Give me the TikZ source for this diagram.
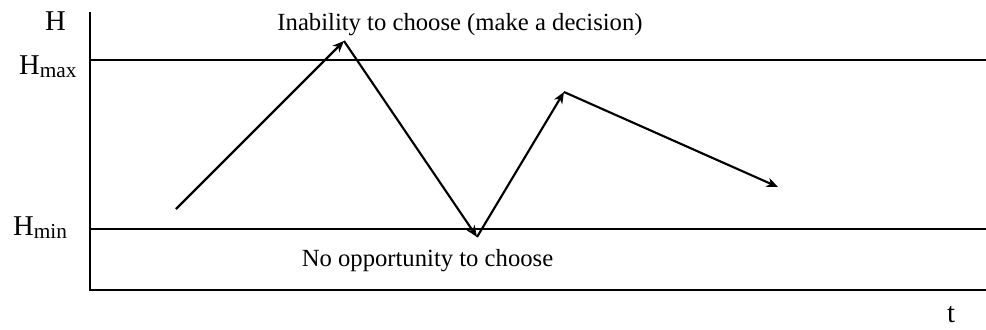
\documentclass[tikz,border=0pt]{standalone}
\usepackage{fontspec}
\setmainfont{Liberation Serif}
\usetikzlibrary{arrows.meta}

\begin{document}
\begin{tikzpicture}[x=0.75pt,y=-0.75pt,line width=1.6pt,
    axlbl/.style={font=\fontsize{21.5}{24}\selectfont,inner sep=0pt,anchor=base west},
    txt/.style={font=\fontsize{18.5}{22}\selectfont,inner sep=0pt,anchor=base},
    move/.style={-{Stealth[length=8.5pt,width=7pt,inset=2.5pt]}}]
        \useasboundingbox (0,0) rectangle (986,329);
        % axes
        \coordinate (top) at (90,12);
        \coordinate (O) at (90,290);
        \coordinate (tend) at (986,290);
        \draw (top) -- (O) -- (tend);
        % levels
        \coordinate (maxL) at (90,60);
        \coordinate (maxR) at (986,60);
        \coordinate (minL) at (90,229);
        \coordinate (minR) at (986,229);
        \draw (maxL) -- (maxR);
        \draw (minL) -- (minR);
        \node[axlbl] (H) at (44,30) {H};
        \node[axlbl] (Hmax) at (18,74) {H\raisebox{-2.3pt}{\fontsize{16}{18}\selectfont max}};
        \node[axlbl] (Hmin) at (12,235) {H\raisebox{-2.3pt}{\fontsize{16}{18}\selectfont min}};
        \node[axlbl] (t) at (946,322) {t};
        % path of H
        \coordinate (start) at (176,209);
        \coordinate (peakA) at (344,41);
        \coordinate (dip) at (477,237);
        \coordinate (peakB) at (564,92);
        \coordinate (finish) at (778,187);
        \draw[move] (start) -- (peakA);
        \draw[move] (peakA) -- (dip);
        \draw[move] (dip) -- (peakB);
        \draw[move] (peakB) -- (finish);
        \node[txt] (inab) at (460,30) {Inability to choose (make a decision)};
        \node[txt] (noopp) at (427.5,266) {No opportunity to choose};
    \end{tikzpicture}
\end{document}
